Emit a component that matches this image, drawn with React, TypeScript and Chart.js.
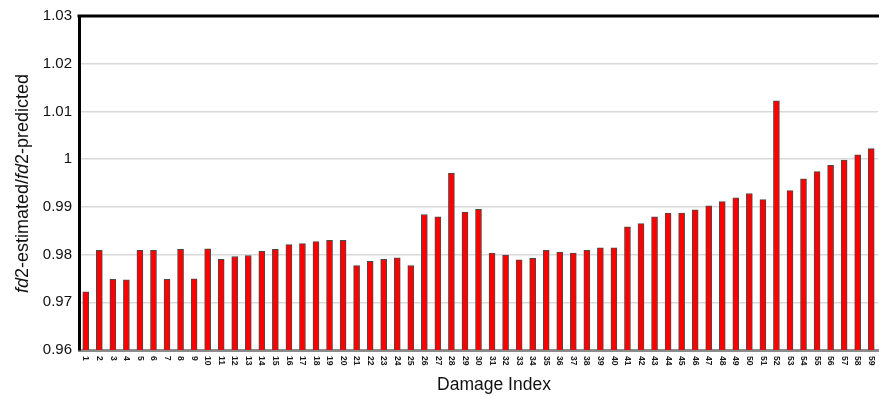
import React, { useEffect, useRef } from "react";
import { Chart, registerables } from "chart.js";

Chart.register(...registerables);

const categories = [
  "1", "2", "3", "4", "5", "6", "7", "8", "9", "10",
  "11", "12", "13", "14", "15", "16", "17", "18", "19", "20",
  "21", "22", "23", "24", "25", "26", "27", "28", "29", "30",
  "31", "32", "33", "34", "35", "36", "37", "38", "39", "40",
  "41", "42", "43", "44", "45", "46", "47", "48", "49", "50",
  "51", "52", "53", "54", "55", "56", "57", "58", "59",
];

const ratioValues = [
  0.9722, 0.9809, 0.9748, 0.9747, 0.9809, 0.9809, 0.9748, 0.9811, 0.9749, 0.9812,
  0.979, 0.9796, 0.9798, 0.9807, 0.9811, 0.9821, 0.9823, 0.9827, 0.983, 0.983,
  0.9777, 0.9786, 0.979, 0.9793, 0.9777, 0.9884, 0.9879, 0.9971, 0.9889, 0.9895,
  0.9803, 0.9799, 0.9789, 0.9792, 0.9809, 0.9805, 0.9803, 0.9809, 0.9814, 0.9814,
  0.9858, 0.9865, 0.9879, 0.9887, 0.9887, 0.9894, 0.9902, 0.9911, 0.9919, 0.9928,
  0.9915, 1.0122, 0.9934, 0.9959, 0.9974, 0.9987, 0.9998, 1.0009, 1.0022,
];

const yTickLabels = ["0.96", "0.97", "0.98", "0.99", "1", "1.01", "1.02", "1.03"];
const yMin = 0.96;
const yMax = 1.03;

const xTitle = "Damage Index";
// segments of the y title: [text, italic]
const yTitleParts: [string, boolean][] = [
  ["fd", true],
  ["2-estimated/", false],
  ["fd", true],
  ["2-predicted", false],
];

const FONT = "'Liberation Sans', Arial, sans-serif";

const decorPlugin = {
  id: "decor",
  afterDraw(chart: any) {
    const { ctx, chartArea } = chart;
    const xScale = chart.scales.x;
    ctx.save();
    // top border
    ctx.strokeStyle = "#000";
    ctx.lineWidth = 3;
    ctx.beginPath();
    ctx.moveTo(chartArea.left - 1.5, chartArea.top);
    ctx.lineTo(chartArea.right + 2, chartArea.top);
    ctx.stroke();

    // x tick labels rotated clockwise
    ctx.fillStyle = "#1a1a1a";
    ctx.font = `bold 8.5px ${FONT}`;
    ctx.textAlign = "left";
    ctx.textBaseline = "middle";
    categories.forEach((c, i) => {
      const x = xScale.getPixelForValue(i);
      ctx.save();
      ctx.translate(x, chartArea.bottom + 6);
      ctx.rotate(Math.PI / 2);
      ctx.fillText(c, 0, 0);
      ctx.restore();
    });

    // x title
    ctx.font = `17.5px ${FONT}`;
    ctx.fillStyle = "#111";
    ctx.textAlign = "center";
    ctx.textBaseline = "alphabetic";
    ctx.fillText(xTitle, 494, 390);

    // y title with italic parts
    const size = 18;
    const widths = yTitleParts.map(([t, it]) => {
      ctx.font = `${it ? "italic " : ""}${size}px ${FONT}`;
      return ctx.measureText(t).width;
    });
    const total = widths.reduce((a, b) => a + b, 0);
    ctx.save();
    ctx.translate(23, 183.5);
    ctx.rotate(-Math.PI / 2);
    ctx.textAlign = "left";
    ctx.textBaseline = "middle";
    let pos = -total / 2;
    yTitleParts.forEach(([t, it], i) => {
      ctx.font = `${it ? "italic " : ""}${size}px ${FONT}`;
      ctx.fillText(t, pos, 0);
      pos += widths[i];
    });
    ctx.restore();
    ctx.restore();
  },
};

export default function App() {
  const ref = useRef<HTMLCanvasElement | null>(null);

  useEffect(() => {
    if (!ref.current) return;
    const chart = new Chart(ref.current, {
      type: "bar",
      data: {
        labels: categories,
        datasets: [
          {
            data: ratioValues,
            backgroundColor: "#ff0000",
            borderColor: "#4a4a4a",
            borderWidth: 1,
            barThickness: 6,
          },
        ],
      },
      options: {
        responsive: false,
        animation: false,
        layout: { padding: { top: 15, right: 1, left: 0, bottom: 0 } },
        plugins: {
          legend: { display: false },
          tooltip: { enabled: false },
        },
        scales: {
          x: {
            grid: { display: false },
            border: { color: "#8c8c8c", width: 3 },
            ticks: { display: false },
            afterFit(scale: any) {
              scale.height = 46;
            },
          },
          y: {
            min: yMin,
            max: yMax,
            ticks: {
              stepSize: 0.01,
              padding: 7,
              color: "#111",
              font: { family: FONT, size: 15 },
              callback: (_v: any, i: number) => yTickLabels[i],
            },
            grid: {
              drawTicks: false,
              lineWidth: 1.5,
              color: (c: any) =>
                c.index === 0 || c.index === yTickLabels.length - 1 ? "rgba(0,0,0,0)" : "#d9d9d9",
            },
            border: { color: "#000", width: 3 },
            afterFit(scale: any) {
              scale.width = 79;
            },
          },
        },
      },
      plugins: [decorPlugin],
    });
    return () => chart.destroy();
  }, []);

  return (
    <div style={{ position: "absolute", left: 0, top: 0, width: 879, height: 396, background: "#fff" }}>
      <canvas ref={ref} width={879} height={396} />
    </div>
  );
}
